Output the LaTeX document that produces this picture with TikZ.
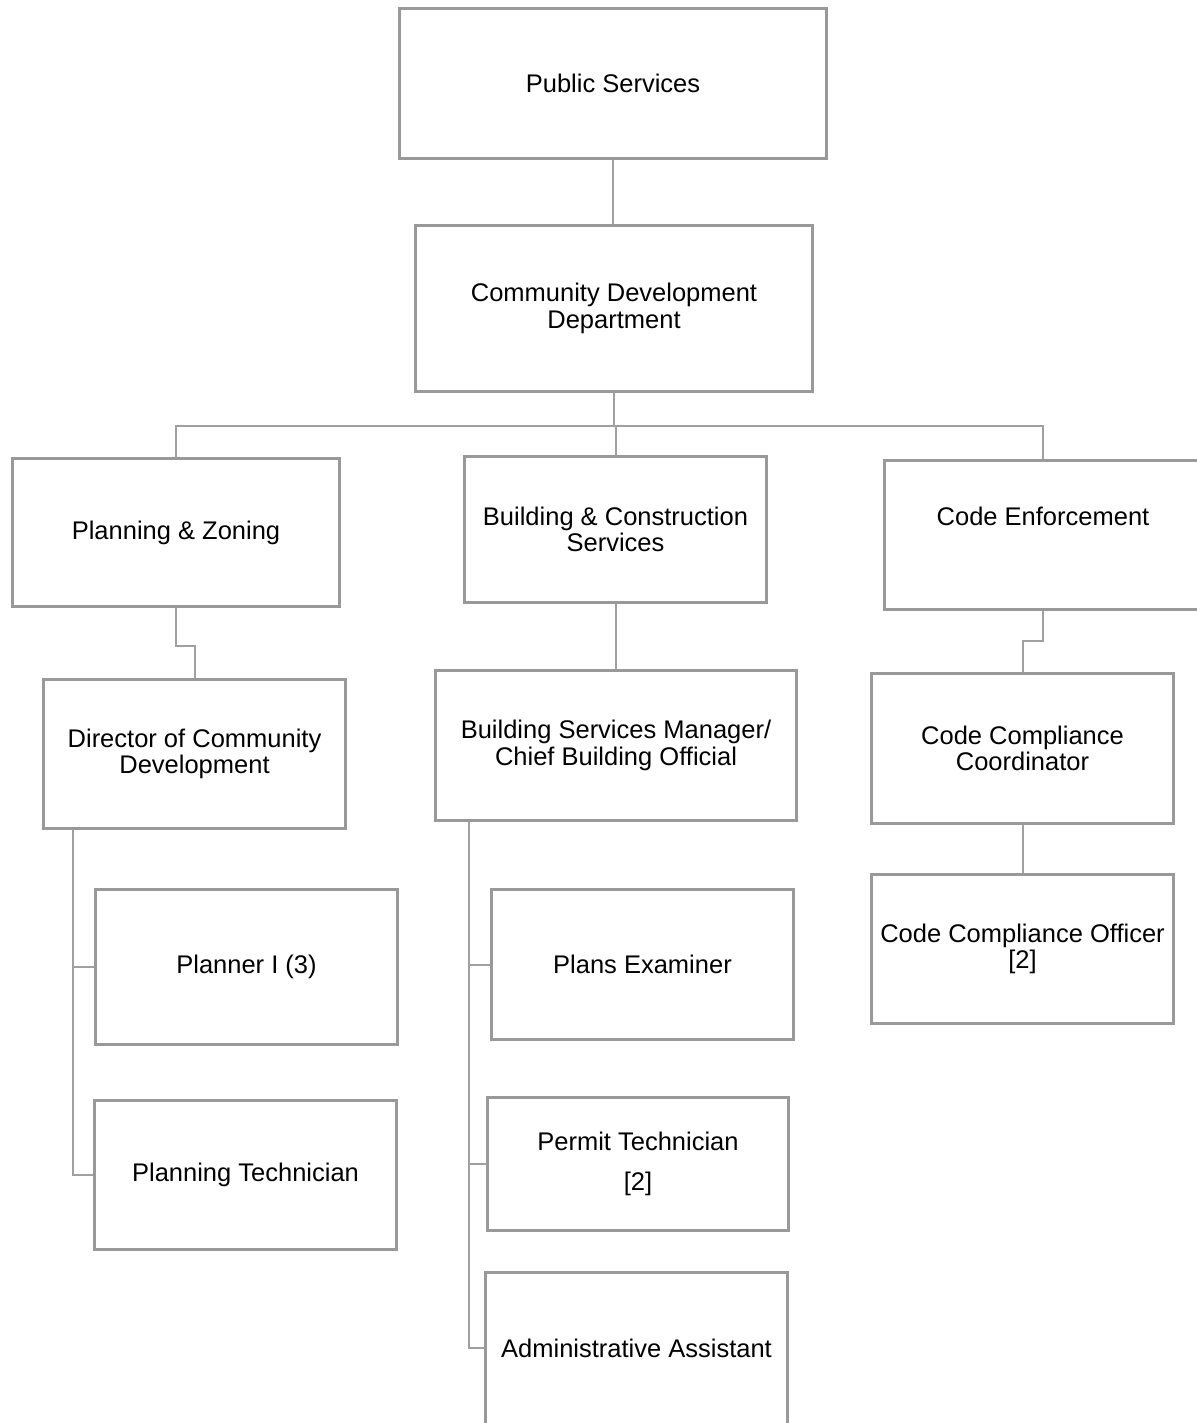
\documentclass[tikz,border=0pt]{standalone}
\usepackage{fontspec}
\setmainfont{Liberation Sans}
\definecolor{boxgray}{RGB}{153,153,153}
\definecolor{linegray}{RGB}{160,160,160}
\begin{document}
\begin{tikzpicture}[x=1pt,y=-1pt,
  txt/.style={font=\fontsize{25.5}{26.5}\selectfont,text=black},
  box/.style={draw=boxgray,line width=3pt,rectangle,align=center,inner sep=2pt,txt},
  conn/.style={draw=linegray,line width=2pt}]
\useasboundingbox (0,0) rectangle (1196,1423);
\node[box,minimum width=427,minimum height=150] (PS) at (613,83.5) {Public Services};
\node[box,minimum width=397,minimum height=166] (CDD) at (614,308.5) {Community Development\\Department};
\node[box,minimum width=327,minimum height=148] (PZ) at (176,532.5) {Planning \& Zoning};
\node[box,minimum width=302,minimum height=146] (BC) at (615.5,529.5) {Building \& Construction\\Services};
\node[box,minimum width=322,minimum height=149,
  label={[txt,xshift=-2pt,yshift=19pt]center:Code Enforcement}] (CE) at (1045,535) {};
\node[box,minimum width=302,minimum height=149] (DIR) at (194.5,754) {Director of Community\\Development};
\node[box,minimum width=361,minimum height=150] (BSM) at (616,745.5) {Building Services Manager/\\Chief Building Official};
\node[box,minimum width=302,minimum height=150] (CCC) at (1022.5,748.5) {Code Compliance\\Coordinator};
\node[box,minimum width=302,minimum height=149] (CCO) at (1022.5,949) {Code Compliance Officer\\{[2]}};
\node[box,minimum width=302,minimum height=155] (PL) at (246.5,967) {Planner I (3)};
\node[box,minimum width=302,minimum height=149] (PT) at (245.5,1175) {Planning Technician};
\node[box,minimum width=302,minimum height=150] (PE) at (642.5,964.5) {Plans Examiner};
\node[box,minimum width=301,minimum height=133] (PMT) at (638,1164) {Permit Technician\\[13.5pt]{[2]}};
\node[box,minimum width=302,minimum height=160,
  label={[txt,yshift=4pt]center:Administrative Assistant}] (AA) at (636.5,1352) {};
% connectors
\draw[conn] (PS.south) -- (PS.south |- CDD.north);
\draw[conn] (CDD.south) -- ++(0,33) coordinate (bus);
\draw[conn] (PZ.north) |- (bus);
\draw[conn] (bus) -| ([xshift=-2pt]CE.north);
\draw[conn] (BC.north) -- (BC.north |- bus);
\draw[conn] (PZ.south) -- ++(0,38) -| (DIR.north);
\draw[conn] (BC.south) -- (BC.south |- BSM.north);
\draw[conn] ([xshift=-2pt]CE.south) -- ++(0,30) -| (CCC.north);
\draw[conn] (CCC.south) -- (CCO.north);
\coordinate (dtrunk) at ([xshift=31pt]DIR.south west);
\draw[conn] (dtrunk) |- (PL.west);
\draw[conn] (dtrunk) |- (PT.west);
\coordinate (btrunk) at ([xshift=35pt]BSM.south west);
\draw[conn] (btrunk) |- (PE.west);
\draw[conn] (btrunk) |- (PMT.west);
\draw[conn] (btrunk) |- ([yshift=4pt]AA.west);
\end{tikzpicture}
\end{document}
